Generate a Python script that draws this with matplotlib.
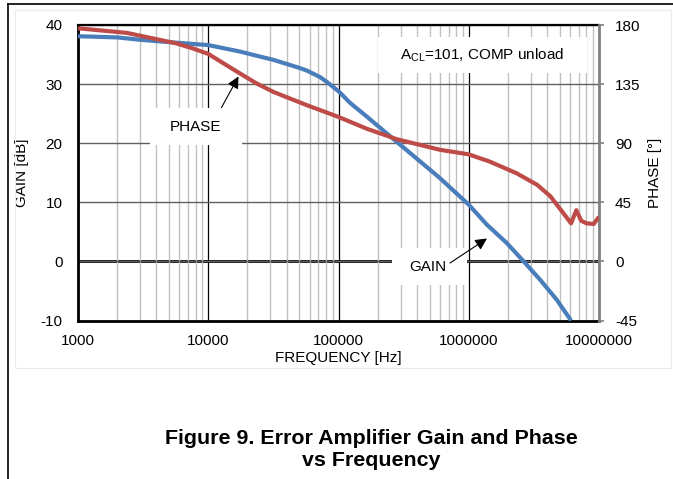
import matplotlib
matplotlib.use('Agg')
import matplotlib.pyplot as plt
from matplotlib.lines import Line2D
from matplotlib.patches import Rectangle
from matplotlib.ticker import FixedLocator, FuncFormatter, LogLocator, NullFormatter

plt.rcParams['font.family'] = ['Liberation Sans', 'DejaVu Sans']
plt.rcParams['mathtext.fontset'] = 'custom'
plt.rcParams['mathtext.rm'] = 'Liberation Sans'
plt.rcParams['mathtext.it'] = 'Liberation Sans'
plt.rcParams['axes.unicode_minus'] = False

# gain curve
gain_freq = [1000, 2000, 3000, 5000, 10000, 17600, 23500, 31700, 50700, 57000,
             72000, 81000, 100000, 123000, 165000, 281000, 537000, 600000,
             1000000, 1380000, 1960000, 2640000, 3530000, 4740000, 6100000]
gain_db = [38.1, 37.9, 37.5, 37.1, 36.6, 35.5, 34.8, 34.1, 32.7, 32.3,
           31.2, 30.4, 28.8, 26.8, 24.5, 20.2, 15.0, 14.1,
           9.6, 6.2, 3.1, 0.0, -3.1, -6.5, -10.0]

# phase curve
phase_freq = [1000, 2370, 5700, 7700, 10000, 13000, 17600, 23500, 31700, 57000,
              100000, 165000, 281000, 600000, 1000000, 1450000, 2340000,
              3350000, 4230000, 5300000, 6100000, 6700000, 7300000, 8000000,
              9100000, 10000000]
phase_deg = [177.5, 174, 166, 162, 158, 151, 143, 135.5, 129, 119,
             110, 101, 93, 85, 81.5, 76, 67,
             58.3, 49.6, 37, 29, 39, 31, 29,
             28.5, 34]

gain_ticks = [-10, 0, 10, 20, 30, 40]
phase_ticks = [-45, 0, 45, 90, 135, 180]
freq_ticks = [1000, 10000, 100000, 1000000, 10000000]

W, H = 673, 479
fig = plt.figure(figsize=(W / 100, H / 100), dpi=100)

# page frame and faint chart-area border
fig.add_artist(Line2D([8 / W, 1], [1 - 4 / H, 1 - 4 / H], color='black', lw=1.2))
fig.add_artist(Line2D([8 / W, 8 / W], [0, 1 - 4 / H], color='black', lw=1.2))
fig.add_artist(Rectangle((15 / W, 1 - 368 / H), (671 - 15) / W, (368 - 10) / H,
                         fill=False, edgecolor='#ececec', lw=0.8))

ax = fig.add_axes([78 / W, 1 - 320.5 / H, 521 / W, 295.5 / H])
ax2 = ax.twinx()

ax.set_xscale('log')
ax.set_xlim(1000, 10000000)
ax.set_ylim(-10, 40)
ax2.set_ylim(-45, 180)

ax.xaxis.set_major_locator(FixedLocator(freq_ticks))
ax.xaxis.set_major_formatter(FuncFormatter(lambda v, p: '%d' % int(round(v))))
ax.xaxis.set_minor_locator(LogLocator(base=10, subs=range(2, 10)))
ax.xaxis.set_minor_formatter(NullFormatter())
ax.set_yticks(gain_ticks)
ax2.set_yticks(phase_ticks)

ax.grid(True, which='minor', axis='x', color='#c0c0c0', lw=1.0)
ax.grid(True, which='major', axis='x', color='black', lw=0.9)
ax.grid(True, which='major', axis='y', color='#606060', lw=1.0)
ax.axhline(0, color='black', lw=2.0, zorder=1.5)

ax.tick_params(axis='x', which='both', length=0, pad=10, labelsize=11)
ax.tick_params(axis='y', length=0, pad=11, labelsize=11)
ax2.tick_params(axis='y', length=3.5, width=1.2, color='#808080', pad=8, labelsize=11)

for s in ['left', 'bottom']:
    ax.spines[s].set_linewidth(2.0)
    ax.spines[s].set_color('black')
ax.spines['top'].set_linewidth(1.6)
ax.spines['right'].set_visible(False)
for s in ['left', 'bottom', 'top']:
    ax2.spines[s].set_visible(False)
ax2.spines['right'].set_color('#808080')
ax2.spines['right'].set_linewidth(2.0)

ax.set_xlabel('FREQUENCY [Hz]', fontsize=11, labelpad=2)
ax.set_ylabel('GAIN [dB]', fontsize=11)
ax2.set_ylabel('PHASE [°]', fontsize=11)
ax.yaxis.set_label_coords(-0.094, 0.5)
ax2.yaxis.set_label_coords(1.095, 0.5)

ax.plot(gain_freq, gain_db, color='#4a7ebb', lw=3.0, zorder=3,
        solid_capstyle='butt', solid_joinstyle='round')
ax2.plot(phase_freq, phase_deg, color='#be4b48', lw=3.0, zorder=3,
         solid_capstyle='butt', solid_joinstyle='round')


def px_box(x0, y0, x1, y1):
    # white text box given in pixel coordinates of the figure
    return Rectangle((x0 / W, 1 - y1 / H), (x1 - x0) / W, (y1 - y0) / H,
                     transform=fig.transFigure, facecolor='white',
                     edgecolor='none', zorder=2)


ax2.add_patch(px_box(150, 108, 242, 145))
ax2.add_patch(px_box(392, 248, 467, 285))
ax2.add_patch(px_box(378, 37, 587, 73))

ax2.text(195 / W, 1 - 127 / H, 'PHASE', transform=fig.transFigure,
         ha='center', va='center', fontsize=11, zorder=4)
ax2.text(428 / W, 1 - 267 / H, 'GAIN', transform=fig.transFigure,
         ha='center', va='center', fontsize=11, zorder=4)
ax2.text(482 / W, 1 - 55 / H, r'A$_{\mathrm{CL}}$=101, COMP unload',
         transform=fig.transFigure, ha='center', va='center', fontsize=11, zorder=4)

arrow = dict(arrowstyle='-|>,head_length=0.7,head_width=0.35', color='black',
             lw=0.8, shrinkA=0, shrinkB=0)
ax2.annotate('', xy=(238.5 / W, 1 - 76.5 / H), xytext=(221.5 / W, 1 - 107.5 / H),
             xycoords='figure fraction', textcoords='figure fraction',
             arrowprops=arrow, zorder=4)
ax2.annotate('', xy=(487 / W, 1 - 238.5 / H), xytext=(450 / W, 1 - 263 / H),
             xycoords='figure fraction', textcoords='figure fraction',
             arrowprops=arrow, zorder=4)

fig.text(371.5 / W, 1 - 449 / H, 'Figure 9. Error Amplifier Gain and Phase\nvs Frequency',
         ha='center', va='center', fontsize=15.4, fontweight='bold', linespacing=1.2)

fig.savefig('out.png', dpi=100)
